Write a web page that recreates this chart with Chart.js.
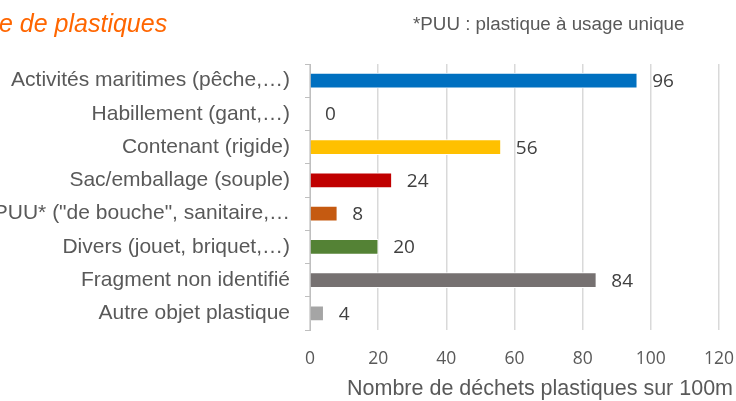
<!DOCTYPE html>
<html>
<head>
<meta charset="utf-8">
<script src="https://cdn.jsdelivr.net/npm/chart.js@4/dist/chart.umd.min.js"></script>
<style>
  html, body { margin: 0; padding: 0; background: #fff; }
  #wrap { width: 736px; height: 401px; }
</style>
</head>
<body>
<div id="wrap"><canvas id="dechetsChart" width="736" height="401"></canvas></div>
<script>
const categories = [
  "Activités maritimes (pêche,…)",
  "Habillement (gant,…)",
  "Contenant (rigide)",
  "Sac/emballage (souple)",
  "PUU* (\"de bouche\", sanitaire,…",
  "Divers (jouet, briquet,…)",
  "Fragment non identifié",
  "Autre objet plastique"
];
const counts = [96, 0, 56, 24, 8, 20, 84, 4];
const barColors = ["#0070C0", "#7F7F7F", "#FFC000", "#C00000", "#C55A11", "#548235", "#767171", "#A5A5A5"];
const xTicks = [0, 20, 40, 60, 80, 100, 120];

const titleText = "e de plastiques";
const noteText = "*PUU : plastique à usage unique";
const axisTitle = "Nombre de déchets plastiques sur 100m";

/* textes libres + étiquettes de valeur */
const extras = {
  id: "extras",
  afterDatasetsDraw(c) {
    const ctx = c.ctx;
    ctx.save();
    ctx.font = "19px 'Open Sans'";
    ctx.fillStyle = "#404040";
    ctx.textAlign = "left";
    ctx.textBaseline = "middle";
    c.getDatasetMeta(0).data.forEach((bar, i) => {
      ctx.fillText(String(counts[i]), bar.x + 15, bar.y + 1);
    });

    ctx.textBaseline = "alphabetic";
    ctx.font = "italic 25px 'Liberation Sans'";
    ctx.fillStyle = "#FF6600";
    ctx.fillText(titleText, -1, 32);

    ctx.font = "18.8px 'Liberation Sans'";
    ctx.fillStyle = "#595959";
    ctx.fillText(noteText, 413, 30);

    ctx.font = "21.5px 'Liberation Sans'";
    ctx.textAlign = "center";
    ctx.fillText(axisTitle, 540, 395);
    ctx.restore();
  }
};

new Chart(document.getElementById("dechetsChart"), {
  type: "bar",
  data: {
    labels: categories,
    datasets: [{
      data: counts,
      backgroundColor: barColors,
      borderColor: "#ffffff",
      borderWidth: 1,
      barThickness: 15
    }]
  },
  options: {
    indexAxis: "y",
    responsive: false,
    animation: false,
    layout: { padding: { top: 64, right: 17, bottom: 0, left: 0 } },
    plugins: { legend: { display: false }, tooltip: { enabled: false } },
    scales: {
      x: {
        min: 0,
        max: 120,
        afterFit: s => { s.height = 71; s.paddingLeft = 0; s.paddingRight = 0; },
        afterBuildTicks: s => { s.ticks = xTicks.map(v => ({ value: v })); },
        grid: { color: "#D9D9D9", lineWidth: 1.5, drawTicks: false },
        border: { display: false },
        ticks: {
          padding: 19,
          color: "#595959",
          font: { family: "'Open Sans'", size: 17.5 }
        }
      },
      y: {
        afterFit: s => { s.width = 310; s.paddingTop = 0; s.paddingBottom = 0; },
        grid: { drawOnChartArea: false, tickLength: 5, color: "#BFBFBF" },
        border: { color: "#BFBFBF", width: 1 },
        ticks: {
          autoSkip: false,
          padding: 15,
          color: "#595959",
          font: { family: "'Liberation Sans'", size: 21 }
        }
      }
    }
  },
  plugins: [extras]
});
</script>
</body>
</html>
